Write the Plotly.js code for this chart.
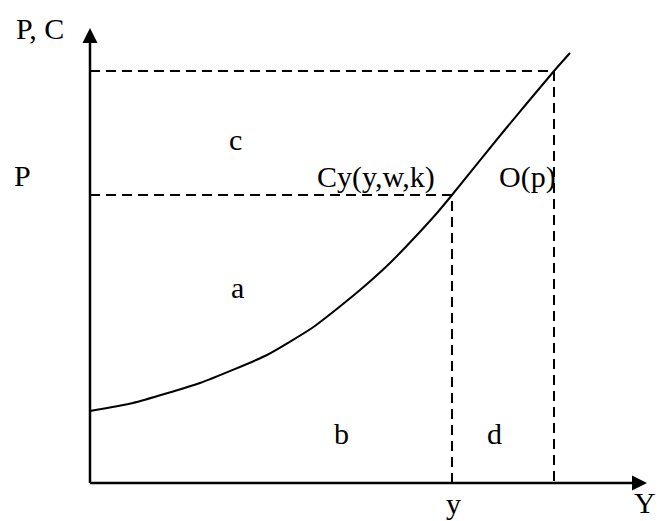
<!DOCTYPE html>
<html>
<head>
<meta charset="utf-8">
<script src="https://cdn.plot.ly/plotly-3.0.1.min.js"></script>
<style>html,body{margin:0;padding:0;background:#fff;}#chart{width:659px;height:521px;}</style>
</head>
<body>
<div id="chart"></div>
<script>
// Cost curve Cy(y,w,k) (output Y vs. price/cost)
const curveX = [0, 43, 110, 177, 222, 253, 277, 300, 327, 347, 362, 413, 464, 480];
const curveY = [72, 80, 100, 128, 155, 179, 199, 220, 248, 270, 288, 351, 412, 430];
// price levels and quantities
const priceP = 288;      // P
const priceHigh = 412;   // upper price
const qtyY = 362;        // y
const qtyHigh = 464;     // O(p)
// labels
const labelTexts = ["P, C", "P", "c", "Cy(y,w,k)", "O(p)", "a", "b", "d", "y", "Y"];
const labelX = [-50, -68, 145, 286, 437, 147, 251, 404, 363, 555];
const labelY = [455, 308, 344, 306, 306, 196, 50, 50, -20, -19];

const FONT = "Liberation Serif, Times New Roman, serif";
const dashStyle = {color: "#000", width: 2, dash: "10px,6px"};

const traces = [
  {x: curveX, y: curveY, mode: "lines", line: {color: "#000", width: 2, shape: "spline", smoothing: 0.5}, hoverinfo: "skip"},
  {x: [0, qtyY, qtyY], y: [priceP, priceP, 0], mode: "lines", line: dashStyle, hoverinfo: "skip"},
  {x: [0, qtyHigh, qtyHigh], y: [priceHigh, priceHigh, 0], mode: "lines", line: dashStyle, hoverinfo: "skip"}
];

const xMax = 557, yMax = 455, head = 15, half = 7.5;
const shapes = [
  {type: "line", xref: "x", yref: "y", x0: 0, y0: 0, x1: xMax - head + 1, y1: 0, line: {color: "#000", width: 2.5}},
  {type: "line", xref: "x", yref: "y", x0: 0, y0: 0, x1: 0, y1: yMax - head + 1, line: {color: "#000", width: 2.5}},
  {type: "path", xref: "x", yref: "y", path: `M ${xMax} 0 L ${xMax - head} ${-half} L ${xMax - head} ${half} Z`, fillcolor: "#000", line: {width: 0}},
  {type: "path", xref: "x", yref: "y", path: `M 0 ${yMax} L ${-half} ${yMax - head} L ${half} ${yMax - head} Z`, fillcolor: "#000", line: {width: 0}}
];

const annotations = labelTexts.map((t, i) => ({
  x: labelX[i], y: labelY[i], xref: "x", yref: "y", text: t, showarrow: false,
  xanchor: "center", yanchor: "middle",
  font: {family: FONT, size: 30, color: "#000"}
}));

const hidden = {showgrid: false, zeroline: false, showline: false, showticklabels: false, ticks: "", fixedrange: true};

const layout = {
  width: 659, height: 521, autosize: false,
  margin: {l: 0, r: 0, t: 0, b: 0, pad: 0},
  paper_bgcolor: "#fff", plot_bgcolor: "#fff",
  showlegend: false,
  xaxis: Object.assign({range: [-90, 569]}, hidden),
  yaxis: Object.assign({range: [-38, 483]}, hidden),
  shapes: shapes,
  annotations: annotations
};

Plotly.newPlot("chart", traces, layout, {displayModeBar: false, staticPlot: true});
</script>
</body>
</html>
